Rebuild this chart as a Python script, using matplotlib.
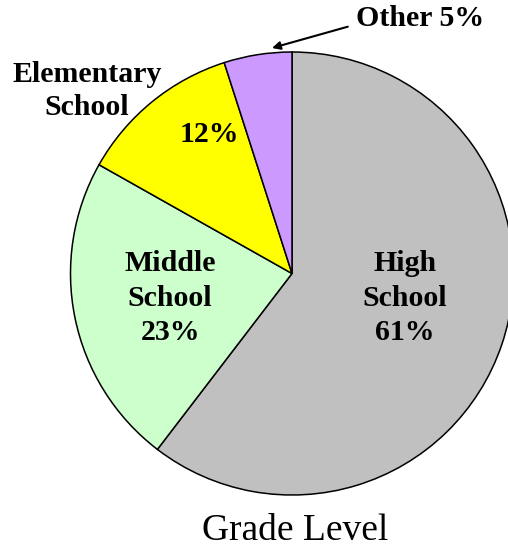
import matplotlib
matplotlib.use("Agg")
from matplotlib import pyplot as plt

# datos del gráfico
niveles = ["High\nSchool", "Middle\nSchool", "Elementary\nSchool", "Other"]
porcentajes = [61, 23, 12, 5]
colores = ["#C0C0C0", "#CCFFCC", "#FFFF00", "#CC99FF"]

W, H = 508, 551
plt.rcParams['font.family'] = ['Liberation Serif', 'DejaVu Serif']

fig = plt.figure(figsize=(W / 100, H / 100), dpi=100)
ax = fig.add_axes([0, 0, 1, 1])

ax.pie(porcentajes, colors=colores, startangle=90, counterclock=False,
       center=(292, H - 273.5), radius=221.5,
       wedgeprops=dict(edgecolor="black", linewidth=1.1), frame=True)
ax.set_xlim(0, W)
ax.set_ylim(0, H)
ax.set_aspect('equal')
ax.axis('off')

bold = dict(fontsize=21.5, fontweight='bold', ha='center', va='center')

# High School / Middle School: nombre + porcentaje dentro
ax.text(405, H - 298, f"{niveles[0]}\n{porcentajes[0]}%", linespacing=1.38, **bold)
ax.text(170, H - 298, f"{niveles[1]}\n{porcentajes[1]}%", linespacing=1.38, **bold)
# Elementary: nombre fuera, porcentaje dentro
ax.text(87, H - 91, niveles[2], linespacing=1.3, **bold)
ax.text(209, H - 135, f"{porcentajes[2]}%", **bold)
# Other con flecha
ax.annotate(f"{niveles[3]} {porcentajes[3]}%", xy=(272, H - 48), xytext=(420, H - 19),
            arrowprops=dict(arrowstyle="-|>", color="black", lw=1.5,
                            shrinkA=4, shrinkB=0, mutation_scale=12,
                            relpos=(0, 0.3)),
            **bold)

ax.text(295, H - 531, "Grade Level", fontsize=27, ha='center', va='center')

fig.savefig("out.png", dpi=100)
